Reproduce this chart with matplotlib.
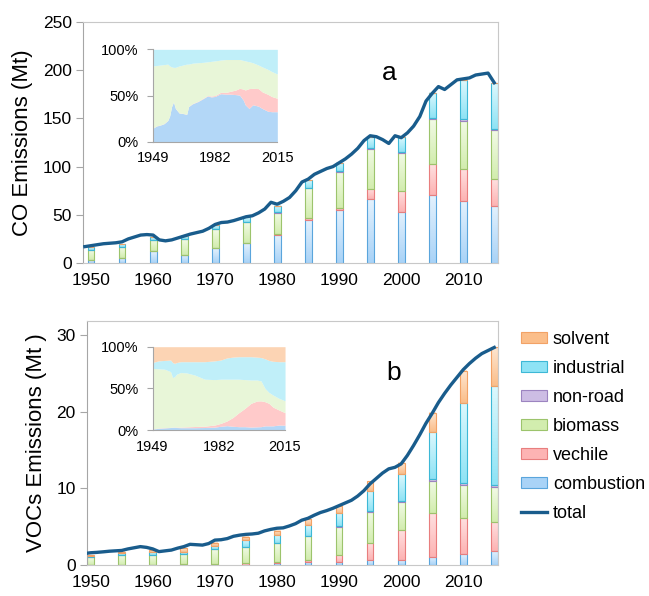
import numpy as np
import matplotlib.pyplot as plt
from matplotlib.patches import Patch
from matplotlib.lines import Line2D
from matplotlib.colors import LinearSegmentedColormap

plt.rcParams['font.family'] = ['Liberation Sans', 'DejaVu Sans']

# annual totals (Mt), 1949-2015
line_years = np.arange(1949, 2016)
co_total = [17, 18, 19, 20, 20.5, 21, 22, 25, 27, 29,
            29.5, 29, 24, 23, 24, 26, 28, 30, 31.5, 33,
            36, 40, 42, 42.5, 44, 46, 48, 49, 52, 56,
            63, 61, 64, 68, 75, 84, 87, 92, 95, 98,
            100, 104, 108, 113, 119, 127, 132, 131, 128, 124,
            132, 130, 135, 142, 152, 168, 176, 183, 180, 185,
            190, 191, 192, 195, 196, 197, 187]
voc_total = [1.5, 1.6, 1.65, 1.72, 1.8, 1.85, 1.9, 2.1, 2.25, 2.4,
             2.3, 2.1, 1.75, 1.85, 1.95, 2.2, 2.4, 2.7, 2.65, 2.6,
             2.8, 3.25, 3.3, 3.45, 3.75, 3.9, 4.0, 4.05, 4.15, 4.45,
             4.65, 4.8, 4.85, 5.1, 5.4, 5.85, 6.1, 6.5, 6.85, 7.1,
             7.4, 7.75, 8.1, 8.45, 9.0, 9.7, 10.6, 11.3, 12.0, 12.55,
             12.75, 13.2, 14.3, 15.6, 17.0, 18.5, 19.8, 21.2, 22.4, 23.5,
             24.5, 25.5, 26.3, 27.0, 27.6, 28.0, 28.4]

# source split every 5 years (Mt)
bar_years = np.arange(1950, 2016, 5)
sources = ['combustion', 'vechile', 'biomass', 'non-road', 'industrial', 'solvent']

co_combustion = [3, 5, 12, 8.3, 15.2, 20.4, 29, 44.6, 55, 66, 53.2, 70.5, 64, 59.5]
co_vechile = [0.3, 0.3, 0.3, 0.4, 0.8, 0.8, 1, 1.8, 1.7, 10.4, 21.8, 31.9, 33.5, 28]
co_biomass = [10.2, 11, 11.7, 15.8, 19, 21, 22, 31, 37.5, 41.9, 39.4, 46.6, 50.1, 50.5]
co_nonroad = [0.3, 0.3, 0.3, 0.3, 0.4, 0.5, 0.6, 0.8, 1, 1.2, 1, 1.4, 2, 1.5]
co_industrial = [2.5, 2.8, 3, 3.2, 4, 5, 6.5, 7.8, 9, 11.5, 15, 26.3, 40.2, 47.5]
co_solvent = [0] * 14

voc_combustion = [0.05, 0.05, 0.05, 0.05, 0.05, 0.05, 0.2, 0.35, 0.45, 0.6, 0.65, 1.1, 1.43, 1.83]
voc_vechile = [0, 0, 0, 0.02, 0.05, 0.15, 0.25, 0.3, 0.8, 2.25, 3.9, 5.65, 4.66, 3.82]
voc_biomass = [1.0, 1.3, 1.25, 1.4, 1.95, 2.1, 2.38, 3.1, 3.7, 4.1, 3.65, 4.25, 4.4, 4.48]
voc_nonroad = [0, 0, 0, 0.01, 0.02, 0.02, 0.05, 0.08, 0.1, 0.1, 0.15, 0.2, 0.25, 0.3]
voc_industrial = [0.15, 0.2, 0.45, 0.2, 0.35, 0.95, 1.03, 1.39, 1.8, 2.65, 3.5, 6.1, 10.45, 12.97]
voc_solvent = [0.1, 0.2, 0.2, 0.5, 0.5, 0.45, 0.57, 0.74, 0.85, 1.3, 1.5, 2.55, 4.2, 5.0]

# inset shares: cumulative upper boundary of each layer (%)
co_share_years = [1949, 1951, 1953, 1955, 1957, 1958, 1959, 1960, 1961, 1963, 1965,
                  1967, 1968, 1970, 1973, 1976, 1978, 1980, 1982, 1985, 1988, 1990,
                  1993, 1995, 1997, 1998, 2000, 2002, 2005, 2007, 2010, 2012, 2015]
co_top_combustion = [14.4, 17, 18, 19.5, 23, 28, 38, 43, 36, 31, 30.5,
                     29.5, 38, 41, 43.5, 47, 49.5, 48.5, 49, 52, 51.5, 51.5,
                     51, 50.5, 45, 40, 36, 40, 38.5, 36, 33, 32.5, 32.5]
co_top_vechile = [14.6, 17.2, 18.2, 19.7, 23.2, 28.2, 38.2, 43.2, 36.2, 31.2, 30.7,
                  29.7, 38.3, 41.3, 43.9, 47.5, 50, 49.5, 50, 53.5, 53.5, 54.5,
                  56, 57.8, 57, 56, 57.5, 57.8, 57.5, 54, 51.3, 49, 47]
co_top_biomass = [82, 82.5, 83, 83.5, 84, 82, 81, 80.5, 80.5, 82, 83,
                  84, 84, 85, 85.5, 86, 86.5, 87, 87.5, 88.4, 89, 89,
                  89, 89, 88, 87.5, 86.6, 85.5, 83, 81, 78.3, 76, 73.3]

voc_share_years = [1949, 1952, 1955, 1958, 1959, 1960, 1961, 1963, 1966, 1970, 1975, 1980,
                   1983, 1986, 1989, 1992, 1995, 1998, 2001, 2003, 2005, 2007, 2009, 2012, 2015]
voc_top_combustion = [1.2, 2, 2.5, 3, 3.2, 3.4, 3, 2.8, 2.8, 2.8, 3, 3.5,
                      4.5, 5.2, 4.5, 4, 4, 3.5, 3.8, 4, 5, 5, 5, 6, 5.8]
voc_top_vechile = [1.3, 2.5, 2.8, 3.2, 3.5, 3.6, 3.5, 3.5, 3.8, 4.2, 4.6, 6,
                   8, 10.8, 15, 20.8, 26, 32, 34.8, 35, 34, 32, 27.5, 24, 20.8]
voc_top_biomass = [74, 73.5, 73, 70, 63, 64, 67, 69, 68.5, 66, 61, 60.5,
                   61, 61, 61, 61, 60.5, 60, 60, 59, 50, 45, 42, 38, 35]
voc_top_industrial = [81, 83, 83.5, 84, 81, 80, 81, 82, 82, 82, 82, 83,
                      84, 86.5, 87.5, 88, 88, 88, 87.5, 87, 85.5, 83.5, 82.5, 82, 82]

# bar gradient: (top colour, bottom colour), plus edge colour
grad = {'combustion': ('#E3F1FD', '#A9D3F7'), 'vechile': ('#FFE0E0', '#FDB3B3'),
        'biomass': ('#F2FAE6', '#D2EDAE'), 'non-road': ('#ECE4F6', '#CDBDE4'),
        'industrial': ('#DDF8FD', '#8EE3F5'), 'solvent': ('#FEE6D1', '#FBBE8A')}
edge = {'combustion': '#5AA5DC', 'vechile': '#E87E7E', 'biomass': '#9CC46C',
        'non-road': '#9C84C0', 'industrial': '#3DB8D6', 'solvent': '#F2A266'}
area = {'combustion': '#B3D7F7', 'vechile': '#FFCACA', 'biomass': '#E8F6D8',
        'industrial': '#C0EFF9', 'solvent': '#FCD4B4'}
line_color = '#195C8C'
axis_gray = '#A6A6A6'

fig = plt.figure(figsize=(6.49, 5.96), dpi=100)
ax1 = fig.add_axes([0.1279, 0.5587, 0.6394, 0.4044])
ax2 = fig.add_axes([0.134, 0.052, 0.6333, 0.41])


def draw_main(ax, parts, total, ymax, yticks, ylabel, letter, xlim, letter_xy):
    bottom = np.zeros(len(bar_years))
    for name, vals in zip(sources, parts):
        vals = np.array(vals, dtype=float)
        bars = ax.bar(bar_years, vals, 1.1, bottom=bottom, facecolor='none',
                      edgecolor=edge[name], linewidth=0.8, zorder=2.5)
        cmap = LinearSegmentedColormap.from_list(name, [grad[name][1], grad[name][0]])
        for p in bars:
            if p.get_height() <= 0:
                continue
            x0, y0 = p.get_x(), p.get_y()
            ax.imshow(np.linspace(0, 1, 32).reshape(-1, 1), cmap=cmap, origin='lower',
                      extent=[x0, x0 + p.get_width(), y0, y0 + p.get_height()],
                      aspect='auto', zorder=2, clip_path=p)
        bottom += vals
    ax.plot(line_years, total, color=line_color, lw=2.4, zorder=3)
    ax.set_xlim(*xlim)
    ax.set_ylim(0, ymax)
    ax.set_aspect('auto')
    ax.set_yticks(yticks)
    ax.set_xticks(np.arange(1950, 2011, 10))
    ax.tick_params(axis='y', length=5, color=axis_gray, labelsize=12.5, pad=3)
    ax.tick_params(axis='x', length=0, labelsize=12.5, pad=7.5)
    for s in ax.spines.values():
        s.set_color('#C8C8C8')
        s.set_linewidth(0.8)
    ax.spines['left'].set_color(axis_gray)
    ax.set_ylabel(ylabel, fontsize=16, labelpad=7)
    ax.text(letter_xy[0], letter_xy[1], letter, transform=ax.transAxes, fontsize=19,
            ha='center', va='center')


def draw_inset(rect, years, tops, names):
    ax = fig.add_axes(rect)
    lower = np.zeros(len(years))
    for name, top in zip(names, tops):
        top = np.array(top, dtype=float)
        ax.fill_between(years, lower, top, color=area[name], lw=0)
        lower = top
    ax.set_xlim(1949, 2015)
    ax.set_ylim(0, 100)
    ax.set_yticks([0, 50, 100])
    ax.set_yticklabels(['0%', '50%', '100%'])
    ax.set_xticks([1949, 1982, 2015])
    ax.tick_params(axis='y', length=4, color=axis_gray, labelsize=10.5, pad=6)
    ax.tick_params(axis='x', length=0, labelsize=10.5, pad=7)
    for s in ['top', 'right']:
        ax.spines[s].set_visible(False)
    for s in ['left', 'bottom']:
        ax.spines[s].set_color(axis_gray)
        ax.spines[s].set_linewidth(0.8)
    return ax


draw_main(ax1, [co_combustion, co_vechile, co_biomass, co_nonroad, co_industrial, co_solvent],
          co_total, 250, range(0, 251, 50), 'CO Emissions (Mt)', 'a', (1948.7, 2015.6),
          (0.737, 0.79))
draw_main(ax2, [voc_combustion, voc_vechile, voc_biomass, voc_nonroad, voc_industrial, voc_solvent],
          voc_total, 31.9, range(0, 31, 10), 'VOCs Emissions (Mt )', 'b', (1949.4, 2015.6),
          (0.747, 0.786))

draw_inset([0.2353, 0.7622, 0.192, 0.155], co_share_years,
           [co_top_combustion, co_top_vechile, co_top_biomass, [100] * len(co_share_years)],
           ['combustion', 'vechile', 'biomass', 'industrial'])
draw_inset([0.235, 0.2785, 0.2042, 0.1398], voc_share_years,
           [voc_top_combustion, voc_top_vechile, voc_top_biomass, voc_top_industrial,
            [100] * len(voc_share_years)],
           ['combustion', 'vechile', 'biomass', 'industrial', 'solvent'])

handles = [Patch(facecolor=grad[n][1], edgecolor=edge[n], lw=0.8) for n in sources[::-1]]
handles.append(Line2D([], [], color=line_color, lw=2.4))
labels = sources[::-1] + ['total']
fig.legend(handles, labels, loc='upper left', bbox_to_anchor=(514 / 649, 1 - 324 / 596),
           frameon=False, fontsize=13, handlelength=1.45, handleheight=0.55,
           labelspacing=0.66, handletextpad=0.3, borderaxespad=0)

fig.savefig('out.png', dpi=100)
